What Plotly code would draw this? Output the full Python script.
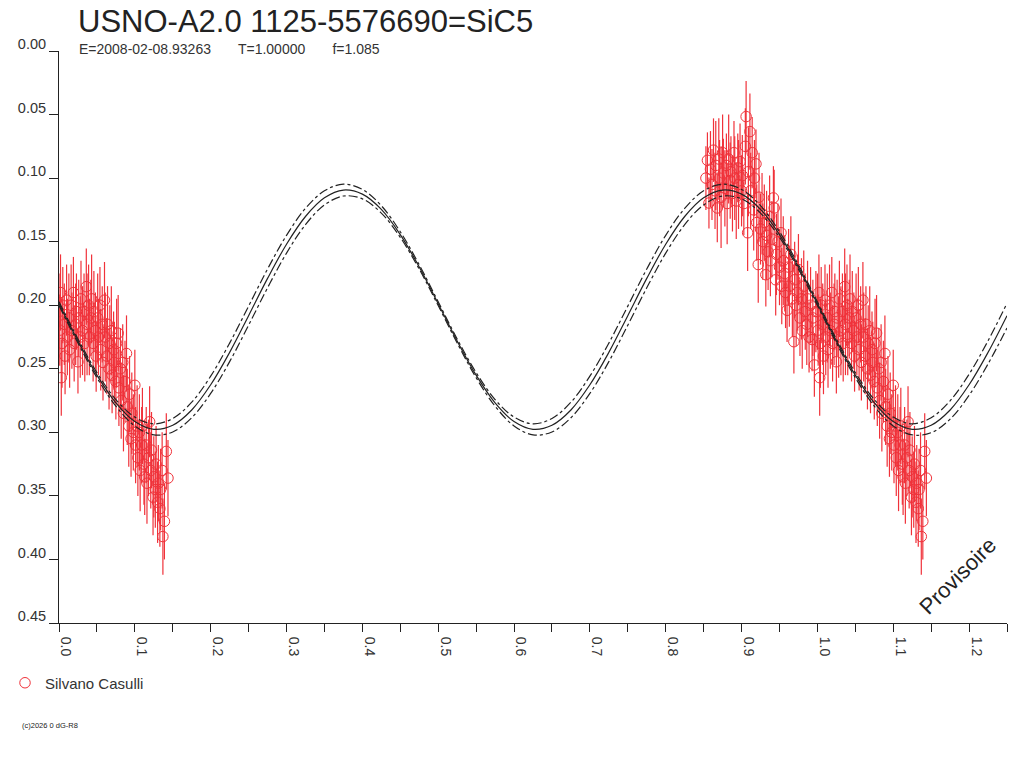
import numpy as np
import plotly.graph_objects as go

# ---------------- data ----------------
title_text = "USNO-A2.0 1125-5576690=SiC5"
subtitle_text = "E=2008-02-08.93263       T=1.00000       f=1.085"
observer = "Silvano Casulli"

# observations, phase segment 0.85 - 1.00
phase_a = [0.853,0.855,0.857,0.859,0.861,0.863,0.865,0.866,0.868,0.870,0.871,0.873,0.875,0.876,0.878,0.880,
           0.881,0.883,0.885,0.886,0.888,0.890,0.891,0.893,0.895,0.896,0.898,0.900,0.901,0.903,0.905,0.906,
           0.908,0.909,0.911,0.912,0.914,0.916,0.917,0.919,0.920,0.922,0.923,0.925,0.927,0.928,0.930,0.932,
           0.933,0.935,0.937,0.938,0.940,0.942,0.943,0.945,0.946,0.948,0.950,0.952,0.953,0.955,0.957,0.958,
           0.960,0.962,0.963,0.965,0.967,0.969,0.970,0.972,0.974,0.975,0.977,0.979,0.980,0.982,0.984,0.986,
           0.987,0.989,0.991,0.993,0.994,0.996,0.998]
mag_a = [0.100,0.086,0.1196,0.093,0.105,0.078,0.110,0.090,0.1235,0.085,0.100,0.115,0.080,0.096,0.108,0.090,
         0.120,0.085,0.102,0.095,0.112,0.080,0.100,0.118,0.092,0.105,0.087,0.110,0.098,0.120,0.075,0.0516,
         0.143,0.095,0.0634,0.110,0.080,0.125,0.100,0.0888,0.135,0.168,0.115,0.140,0.128,0.150,0.135,0.176,
         0.145,0.158,0.130,0.165,0.148,0.1156,0.1235,0.180,0.160,0.150,0.170,0.143,0.185,0.165,0.175,0.190,
         0.204,0.170,0.185,0.160,0.195,0.2287,0.180,0.200,0.190,0.172,0.210,0.195,0.220,0.185,0.205,0.215,
         0.195,0.225,0.200,0.227,0.210,0.247,0.205]
err_a = [0.025,0.022,0.020,0.030,0.028,0.025,0.030,0.035,0.027,0.032,0.030,0.040,0.030,0.027,0.030,0.025,
         0.032,0.035,0.030,0.028,0.030,0.025,0.033,0.030,0.027,0.035,0.030,0.028,0.032,0.025,0.030,0.028,
         0.030,0.035,0.030,0.030,0.028,0.032,0.030,0.027,0.030,0.030,0.035,0.028,0.032,0.030,0.030,0.025,
         0.035,0.030,0.032,0.028,0.030,0.025,0.030,0.028,0.032,0.030,0.030,0.027,0.030,0.035,0.030,0.028,
         0.025,0.030,0.032,0.030,0.030,0.025,0.030,0.032,0.030,0.028,0.030,0.032,0.030,0.028,0.030,0.032,
         0.030,0.028,0.030,0.025,0.030,0.025,0.032]

# observations, phase segment 0.00 - 0.14 (also drawn one cycle later)
phase_b = [0.000,0.001,0.002,0.003,0.004,0.005,0.007,0.008,0.010,0.011,0.013,0.014,0.016,0.017,0.019,0.020,
           0.022,0.023,0.025,0.026,0.028,0.029,0.031,0.033,0.034,0.036,0.037,0.039,0.040,0.042,0.043,0.045,
           0.046,0.048,0.049,0.051,0.052,0.054,0.055,0.057,0.058,0.060,0.061,0.063,0.064,0.066,0.067,0.069,
           0.070,0.072,0.073,0.075,0.076,0.078,0.079,0.081,0.082,0.084,0.085,0.087,0.089,0.090,0.092,0.093,
           0.095,0.096,0.098,0.100,0.101,0.103,0.104,0.106,0.107,0.109,0.110,0.112,0.113,0.115,0.116,0.118,
           0.1195,0.121,0.122,0.124,0.125,0.127,0.128,0.130,0.131,0.133,0.134,0.136,0.137,0.139,0.1415,0.1437]
mag_b = [0.205,0.2196,0.190,0.257,0.230,0.200,0.215,0.240,0.196,0.225,0.210,0.235,0.200,0.220,0.190,0.230,
         0.215,0.205,0.2445,0.210,0.225,0.195,0.220,0.205,0.230,0.1854,0.215,0.200,0.225,0.210,0.195,0.230,
         0.205,0.220,0.240,0.210,0.225,0.200,0.235,0.215,0.245,0.196,0.225,0.240,0.215,0.250,0.230,0.220,
         0.255,0.235,0.245,0.260,0.230,0.222,0.265,0.250,0.275,0.245,0.285,0.260,0.238,0.280,0.295,0.270,
         0.305,0.285,0.300,0.263,0.310,0.295,0.320,0.300,0.330,0.310,0.295,0.325,0.335,0.310,0.340,0.320,
         0.2917,0.330,0.314,0.351,0.335,0.345,0.325,0.355,0.340,0.360,0.345,0.330,0.382,0.370,0.315,0.336]
err_b = [0.030,0.028,0.030,0.030,0.035,0.030,0.032,0.030,0.028,0.030,0.035,0.030,0.032,0.030,0.028,0.030,
         0.032,0.030,0.025,0.030,0.032,0.030,0.035,0.030,0.030,0.030,0.040,0.032,0.030,0.030,0.035,0.030,
         0.032,0.030,0.028,0.035,0.030,0.030,0.032,0.030,0.030,0.030,0.035,0.030,0.030,0.032,0.030,0.035,
         0.030,0.030,0.032,0.030,0.035,0.030,0.030,0.032,0.030,0.030,0.030,0.032,0.030,0.030,0.032,0.030,
         0.030,0.032,0.030,0.028,0.030,0.032,0.030,0.030,0.032,0.030,0.030,0.032,0.030,0.030,0.032,0.030,
         0.028,0.030,0.030,0.030,0.032,0.030,0.030,0.032,0.030,0.030,0.032,0.030,0.030,0.030,0.030,0.030]

# fitted light curve and its uncertainty envelope, sampled every 0.025 in phase
model_phase = [0.000,0.025,0.050,0.075,0.100,0.125,0.150,0.175,0.200,0.225,0.250,0.275,0.300,0.325,0.350,0.375,0.400,0.425,0.450,0.475,
               0.500,0.525,0.550,0.575,0.600,0.625,0.650,0.675,0.700,0.725,0.750,0.775,0.800,0.825,0.850,0.875,0.900,0.925,0.950,0.975,
               1.000,1.025,1.050,1.075,1.100,1.125,1.150,1.175,1.200,1.225,1.250]
model_mid = [0.1988,0.2281,0.2550,0.2768,0.2915,0.2976,0.2944,0.2824,0.2626,0.2371,0.2082,0.1789,0.1520,0.1302,0.1155,0.1094,0.1126,0.1246,0.1444,0.1699,
             0.1988,0.2281,0.2550,0.2768,0.2915,0.2976,0.2944,0.2824,0.2626,0.2371,0.2082,0.1789,0.1520,0.1302,0.1155,0.1094,0.1126,0.1246,0.1444,0.1699,
             0.1988,0.2281,0.2550,0.2768,0.2915,0.2976,0.2944,0.2824,0.2626,0.2371,0.2082]
model_upper = [0.1973,0.2265,0.2530,0.2742,0.2880,0.2933,0.2891,0.2763,0.2558,0.2298,0.2007,0.1715,0.1450,0.1238,0.1100,0.1048,0.1089,0.1217,0.1422,0.1682,
               0.1973,0.2265,0.2530,0.2742,0.2880,0.2933,0.2891,0.2763,0.2558,0.2298,0.2007,0.1715,0.1450,0.1238,0.1100,0.1048,0.1089,0.1217,0.1422,0.1682,
               0.1973,0.2265,0.2530,0.2742,0.2880,0.2933,0.2885,0.2752,0.2543,0.2280,0.1985]
model_lower = [0.2003,0.2297,0.2570,0.2794,0.2950,0.3020,0.2997,0.2885,0.2694,0.2444,0.2157,0.1863,0.1590,0.1366,0.1211,0.1141,0.1163,0.1275,0.1466,0.1716,
               0.2003,0.2297,0.2570,0.2794,0.2950,0.3020,0.2997,0.2885,0.2694,0.2444,0.2157,0.1863,0.1590,0.1366,0.1211,0.1141,0.1163,0.1275,0.1466,0.1716,
               0.2003,0.2297,0.2570,0.2794,0.2950,0.3020,0.3003,0.2896,0.2709,0.2462,0.2179]

x_tickvals = [0.00,0.05,0.10,0.15,0.20,0.25,0.30,0.35,0.40,0.45,0.50,0.55,0.60,0.65,0.70,0.75,0.80,0.85,0.90,0.95,1.00,1.05,1.10,1.15,1.20,1.25]
x_ticktext = ["0.0","","0.1","","0.2","","0.3","","0.4","","0.5","","0.6","","0.7","","0.8","","0.9","","1.0","","1.1","","1.2",""]
y_tickvals = [0.00,0.05,0.10,0.15,0.20,0.25,0.30,0.35,0.40,0.45]
y_ticktext = ["0.00","0.05","0.10","0.15","0.20","0.25","0.30","0.35","0.40","0.45"]

# ---------------- figure ----------------
RED = "#f0323a"
INK = "#222222"
FONT = "Liberation Sans, Arial, sans-serif"

pb = np.array(phase_b)
obs_x = np.concatenate([np.array(phase_a), pb, pb + 1.0])
obs_y = np.concatenate([mag_a, mag_b, mag_b])
obs_e = np.concatenate([err_a, err_b, err_b])

fig = go.Figure()
fig.add_trace(go.Scatter(
    x=obs_x, y=obs_y, mode="markers", name=observer,
    marker=dict(symbol="circle-open", size=10.5, color=RED, line=dict(width=1, color=RED)),
    error_y=dict(type="data", array=obs_e, visible=True, color=RED, thickness=1.2, width=0),
    showlegend=True,
))
for arr, dash in [(model_upper, "dashdot"), (model_mid, "solid"), (model_lower, "dashdot")]:
    fig.add_trace(go.Scatter(
        x=model_phase, y=arr, mode="lines", showlegend=False, hoverinfo="skip",
        line=dict(color=INK, width=1.2, dash=dash, shape="spline", smoothing=1.0),
    ))

fig.update_layout(
    width=1024, height=768,
    margin=dict(l=59, r=17, t=51, b=145, pad=0, autoexpand=False),
    paper_bgcolor="white", plot_bgcolor="white",
    font=dict(family=FONT, color="#333333", size=14),
    title=dict(text=title_text, x=78/1024, xanchor="left", xref="container",
               y=1 - 21/768, yanchor="middle", yref="container",
               font=dict(family=FONT, size=31, color=INK)),
    xaxis=dict(range=[0, 1.25], tickvals=x_tickvals, ticktext=x_ticktext, tickangle=90,
               ticks="outside", ticklen=8, tickwidth=1, tickcolor=INK,
               showline=True, linecolor=INK, linewidth=1, showgrid=False, zeroline=False,
               tickfont=dict(family=FONT, size=14, color="#333333"), ticklabelshift=7, ticklabelstandoff=2,
               automargin=False),
    yaxis=dict(range=[0.45, 0.0], tickvals=y_tickvals, ticktext=y_ticktext,
               ticks="outside", ticklen=9, tickwidth=1, tickcolor=INK,
               showline=True, linecolor=INK, linewidth=1, showgrid=False, zeroline=False,
               tickfont=dict(family=FONT, size=14.5, color="#333333"), ticklabelshift=7, ticklabelstandoff=0,
               automargin=False),
    legend=dict(x=(5 - 59) / 948, y=(623 - 683) / 572, xanchor="left", yanchor="middle",
                font=dict(family=FONT, size=15, color="#333333"), bgcolor="rgba(0,0,0,0)",
                itemwidth=30),
    showlegend=True,
)

fig.add_annotation(text=subtitle_text, xref="paper", yref="paper",
                   x=(77 - 59) / 948, y=(623 - 49) / 572, xanchor="left", yanchor="middle",
                   showarrow=False, font=dict(family=FONT, size=14, color="#333333"))
fig.add_annotation(text="Provisoire", xref="paper", yref="paper",
                   x=(958.3 - 59) / 948, y=(623 - 575.8) / 572, xanchor="center", yanchor="middle",
                   textangle=-45, showarrow=False, font=dict(family=FONT, size=22, color=INK))
fig.add_annotation(text="(c)2026 0 dG-R8", xref="paper", yref="paper",
                   x=(20 - 59) / 948, y=(623 - 725.5) / 572, xanchor="left", yanchor="middle",
                   showarrow=False, font=dict(family=FONT, size=7.5, color=INK))

fig.write_html("out.html", config={"displayModeBar": False},
               post_script="document.body.style.margin='0';")
